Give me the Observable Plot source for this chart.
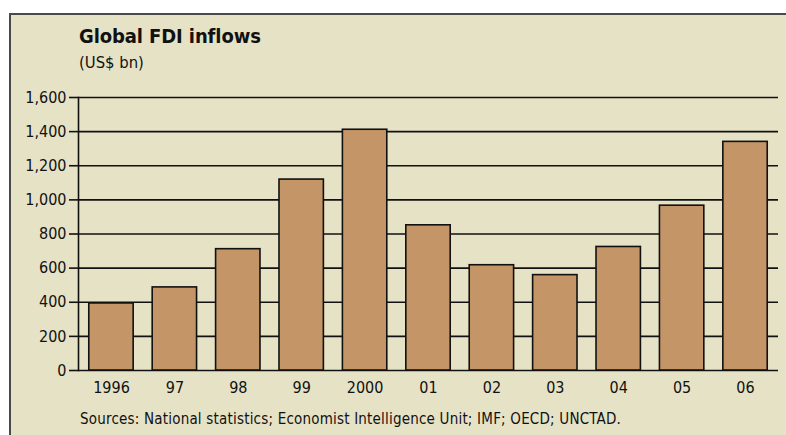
<!DOCTYPE html>
<html>
<head>
<meta charset="utf-8">
<script src="https://cdn.jsdelivr.net/npm/d3@7"></script>
<script src="https://cdn.jsdelivr.net/npm/@observablehq/plot@0.6"></script>
<style>
  html, body { margin: 0; padding: 0; background: #ffffff; }
  #wrap { position: relative; width: 786px; height: 435px; overflow: hidden; background: #ffffff; }
  #panel { position: absolute; left: 9px; top: 13px; right: -4px; bottom: -4px; background: #e6e2c6;
           border-top: 2px solid #4a4a4a; border-left: 2px solid #4a4a4a; }
  .t { position: absolute; font-family: "DejaVu Sans Condensed", "DejaVu Sans", sans-serif; font-stretch: condensed; color: #111; white-space: nowrap; }
  #title { left: 79px; top: 24px; font-size: 20px; font-weight: bold; letter-spacing: -0.1px; }
  #subtitle { left: 79px; top: 53px; font-size: 16.5px; }
  #caption { left: 80px; top: 410px; font-size: 15px; letter-spacing: 0.2px; }
  #chart { position: absolute; left: 0; top: 80px; }
</style>
</head>
<body>
<div id="wrap">
  <div id="panel"></div>
  <div class="t" id="title">Global FDI inflows</div>
  <div class="t" id="subtitle">(US$ bn)</div>
  <div id="chart"></div>
  <div class="t" id="caption">Sources: National statistics; Economist Intelligence Unit; IMF; OECD; UNCTAD.</div>
</div>
<script>
const years = ["1996", "97", "98", "99", "2000", "01", "02", "03", "04", "05", "06"];
const inflows = [393, 487, 711, 1119, 1411, 851, 617, 559, 724, 966, 1340];
const yTicks = [0, 200, 400, 600, 800, 1000, 1200, 1400, 1600];

const data = years.map((y, i) => ({year: y, value: inflows[i]}));

const chart = Plot.plot({
  width: 786,
  height: 320,
  marginTop: 17,
  marginBottom: 30,
  marginLeft: 78,
  marginRight: 8,
  style: {background: "transparent", fontFamily: "'DejaVu Sans Condensed', 'DejaVu Sans', sans-serif", fontSize: "16px", color: "#111", fontStretch: "condensed"},
  x: {domain: years, paddingInner: 0.3, paddingOuter: 0.17, round: false, label: null},
  y: {domain: [0, 1600], label: null},
  marks: [
    Plot.gridY(yTicks, {stroke: "#111", strokeOpacity: 1, strokeWidth: 1.6}),
    Plot.barY(data, {x: "year", y: "value", fill: "#c49566", stroke: "#111", strokeWidth: 1.6}),
    Plot.frame({anchor: "left", stroke: "#111", strokeWidth: 1.6}),
    Plot.axisY({ticks: yTicks, tickFormat: d3.format(","), tickSize: 9, tickPadding: 3, stroke: "#111", strokeWidth: 1.6, label: null, fontSize: 16}),
    Plot.axisX({tickSize: 0, tickPadding: 11, label: null, fontSize: 16})
  ]
});
document.getElementById("chart").appendChild(chart);
</script>
</body>
</html>
